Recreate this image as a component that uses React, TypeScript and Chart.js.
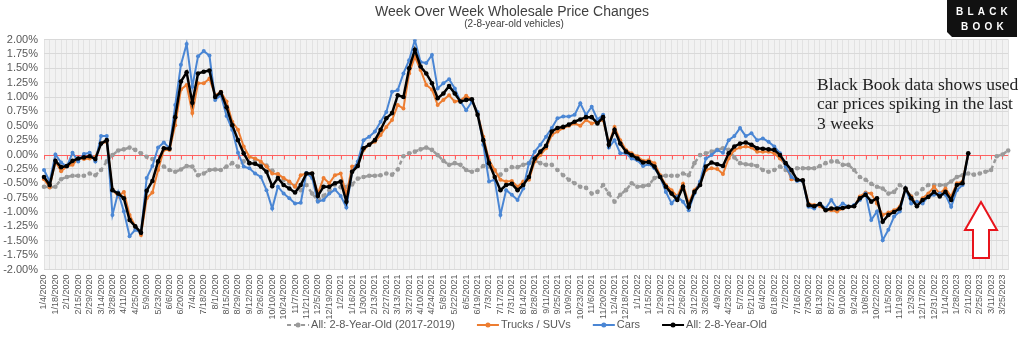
import React, { useEffect, useRef } from "react";
import { Chart, registerables } from "chart.js";

Chart.register(...registerables);

// ---------- data ----------
const TITLE = "Week Over Week Wholesale Price Changes";
const SUBTITLE = "(2-8-year-old vehicles)";
const NOTE_LINES = ["Black Book data shows used", "car prices spiking in the last", "3 weeks"];
const SERIES_NAMES = ["All: 2-8-Year-Old (2017-2019)", "Trucks / SUVs", "Cars", "All: 2-8-Year-Old"];

const FIRST_WEEK = [2020, 1, 4];
const WEEK_COUNT = 170;

function buildWeekLabels(): string[] {
  const out: string[] = [];
  const d = new Date(FIRST_WEEK[0], FIRST_WEEK[1] - 1, FIRST_WEEK[2]);
  for (let i = 0; i < WEEK_COUNT; i++) {
    out.push(`${d.getMonth() + 1}/${d.getDate()}/${d.getFullYear()}`);
    d.setDate(d.getDate() + 7);
  }
  return out;
}
const WEEK_LABELS = buildWeekLabels();

const BASELINE_2017_2019 = [
  -0.56, -0.57, -0.56, -0.43, -0.39, -0.37, -0.37, -0.37, -0.33, -0.36,
  -0.27, -0.12, -0.01, 0.07, 0.09, 0.12, 0.08, 0.02, -0.04, -0.08,
  -0.14, -0.21, -0.27, -0.3, -0.26, -0.2, -0.21, -0.36, -0.33, -0.27,
  -0.26, -0.27, -0.21, -0.15, -0.21, -0.12, -0.15, -0.1, -0.16, -0.19,
  -0.28, -0.35, -0.44, -0.5, -0.55, -0.62, -0.53, -0.68, -0.8, -0.72,
  -0.62, -0.52, -0.57, -0.56, -0.52, -0.42, -0.39, -0.37, -0.37, -0.36,
  -0.33, -0.35, -0.26, -0.03, 0.02, 0.05, 0.09, 0.12, 0.08, -0.01,
  -0.11, -0.18, -0.15, -0.18, -0.27, -0.3, -0.27, -0.2, -0.21, -0.28,
  -0.35, -0.27, -0.22, -0.22, -0.18, -0.15, -0.1, -0.15, -0.18, -0.18,
  -0.27, -0.36, -0.44, -0.5, -0.56, -0.58, -0.68, -0.65, -0.53, -0.68,
  -0.82, -0.7, -0.62, -0.5, -0.56, -0.55, -0.53, -0.41, -0.37, -0.37,
  -0.37, -0.37, -0.33, -0.36, -0.15, -0.01, 0.02, 0.05, 0.08, 0.11,
  0.08, -0.05, -0.15, -0.17, -0.18, -0.2, -0.27, -0.3, -0.27, -0.21,
  -0.27, -0.33, -0.24, -0.24, -0.24, -0.24, -0.2, -0.15, -0.12, -0.12,
  -0.18, -0.18, -0.27, -0.39, -0.44, -0.51, -0.56, -0.59, -0.68, -0.65,
  -0.53, -0.6, -0.73, -0.68, -0.6, -0.53, -0.53, -0.53, -0.53, -0.47,
  -0.39, -0.36, -0.33, -0.35, -0.33, -0.3, -0.27, -0.03, 0.0, 0.07,
];

const TRUCKS_SUVS = [
  -0.43, -0.57, -0.12, -0.29, -0.21, -0.18, -0.07, -0.08, -0.07, -0.04,
  0.19, 0.22, -0.61, -0.73, -0.65, -1.05, -1.25, -1.4, -0.76, -0.66,
  -0.27, 0.08, 0.08, 0.51, 1.13, 1.21, 0.72, 1.24, 1.24, 1.32,
  1.03, 1.09, 0.92, 0.57, 0.43, 0.14, -0.04, -0.07, -0.12, -0.21,
  -0.33, -0.34, -0.41, -0.47, -0.56, -0.36, -0.33, -0.33, -0.68, -0.41,
  -0.5, -0.36, -0.33, -0.7, -0.21, -0.18, 0.08, 0.17, 0.22, 0.34,
  0.48, 0.6, 0.86, 0.8, 1.41, 1.7, 1.47, 1.21, 1.13, 0.86,
  0.95, 1.03, 0.92, 0.94, 1.02, 0.95, 0.72, 0.31, -0.1, -0.27,
  -0.44, -0.47, -0.46, -0.56, -0.47, -0.44, -0.12, -0.01, 0.11, 0.34,
  0.4, 0.46, 0.5, 0.54, 0.5, 0.6, 0.54, 0.57, 0.6, 0.19,
  0.48, 0.25, 0.08, 0.02, -0.03, -0.11, -0.1, -0.15, -0.36, -0.53,
  -0.62, -0.73, -0.51, -0.85, -0.62, -0.5, -0.27, -0.24, -0.25, -0.34,
  -0.07, 0.08, 0.12, 0.14, 0.12, 0.05, 0.05, 0.05, 0.02, -0.07,
  -0.18, -0.43, -0.44, -0.45, -0.85, -0.88, -0.9, -0.97, -0.97, -0.99,
  -0.94, -0.91, -0.9, -0.73, -0.66, -0.68, -0.85, -1.05, -1.01, -0.97,
  -0.91, -0.59, -0.73, -0.88, -0.76, -0.68, -0.56, -0.68, -0.59, -0.73,
  -0.5, -0.47, 0.01,
];

const CARS = [
  -0.27, -0.47, 0.0, -0.14, -0.21, 0.03, -0.12, 0.01, 0.03, -0.12,
  0.32, 0.32, -1.05, -0.66, -0.99, -1.42, -1.31, -1.36, -0.41, -0.2,
  0.12, 0.21, 0.11, 0.86, 1.56, 1.92, 1.18, 1.71, 1.8, 1.72,
  0.95, 1.03, 0.67, 0.43, 0.03, -0.21, -0.24, -0.33, -0.39, -0.62,
  -0.94, -0.56, -0.68, -0.76, -0.85, -0.84, -0.32, -0.41, -0.82, -0.79,
  -0.68, -0.61, -0.72, -0.92, -0.3, -0.12, 0.25, 0.31, 0.4, 0.57,
  0.74, 1.09, 1.12, 1.41, 1.64, 1.99, 1.61, 1.59, 1.73, 1.15,
  1.24, 1.31, 1.15, 0.92, 0.77, 0.92, 0.74, 0.17, -0.47, -0.44,
  -1.05, -0.62, -0.7, -0.79, -0.59, -0.15, 0.05, 0.17, 0.31, 0.46,
  0.63, 0.66, 0.66, 0.69, 0.89, 0.69, 0.83, 0.61, 0.69, 0.12,
  0.25, 0.02, 0.02, -0.07, -0.1, -0.2, -0.17, -0.24, -0.39, -0.65,
  -0.85, -0.73, -0.82, -0.97, -0.68, -0.47, -0.07, -0.01, 0.08, 0.03,
  0.25, 0.32, 0.46, 0.32, 0.37, 0.25, 0.28, 0.22, 0.14, 0.02,
  -0.21, -0.39, -0.46, -0.46, -0.91, -0.94, -0.85, -0.94, -0.79, -0.94,
  -0.85, -0.91, -0.88, -0.79, -0.68, -1.14, -0.99, -1.49, -1.31, -1.08,
  -0.99, -0.59, -0.85, -0.82, -0.85, -0.73, -0.7, -0.68, -0.7, -0.91,
  -0.62, -0.53, 0.01,
];

const ALL_2_8 = [
  -0.39, -0.53, -0.11, -0.22, -0.2, -0.11, -0.07, -0.05, -0.03, -0.08,
  0.19, 0.25, -0.62, -0.68, -0.76, -1.14, -1.25, -1.36, -0.63, -0.46,
  -0.12, 0.11, 0.1, 0.65, 1.27, 1.43, 0.9, 1.41, 1.44, 1.46,
  1.0, 1.08, 0.82, 0.51, 0.25, 0.02, -0.15, -0.16, -0.21, -0.3,
  -0.55, -0.41, -0.53, -0.59, -0.66, -0.53, -0.33, -0.33, -0.72, -0.56,
  -0.56, -0.5, -0.47, -0.82, -0.3, -0.2, 0.11, 0.17, 0.25, 0.43,
  0.63, 0.72, 1.03, 1.0, 1.5, 1.82, 1.53, 1.41, 1.24, 0.98,
  1.06, 1.19, 1.06, 0.92, 0.95, 0.96, 0.69, 0.25, -0.15, -0.39,
  -0.62, -0.53, -0.51, -0.62, -0.53, -0.39, -0.07, 0.05, 0.15, 0.4,
  0.46, 0.48, 0.52, 0.57, 0.61, 0.65, 0.65, 0.54, 0.65, 0.17,
  0.43, 0.19, 0.05, -0.01, -0.07, -0.14, -0.13, -0.21, -0.39, -0.56,
  -0.68, -0.79, -0.56, -0.91, -0.65, -0.53, -0.21, -0.14, -0.17, -0.2,
  0.02, 0.14, 0.19, 0.21, 0.17, 0.11, 0.1, 0.09, 0.08, -0.01,
  -0.15, -0.27, -0.44, -0.45, -0.88, -0.9, -0.86, -0.97, -0.94, -0.94,
  -0.93, -0.91, -0.9, -0.76, -0.7, -0.82, -0.76, -1.17, -1.05, -1.0,
  -0.94, -0.59, -0.76, -0.9, -0.79, -0.74, -0.65, -0.73, -0.65, -0.79,
  -0.53, -0.5, 0.02,
];

// ---------- styles ----------
const GRAY = "#9a9a9a";
const ORANGE = "#ed7d31";
const BLUE = "#4a86d4";
const BLACK = "#000000";
const SANS = '"Liberation Sans", Arial, sans-serif';

const overlayPlugin = {
  id: "overlay",
  beforeDraw(chart: any) {
    const { ctx, chartArea: a } = chart;
    ctx.save();
    ctx.fillStyle = "#ffffff";
    ctx.fillRect(0, 0, chart.width, chart.height);
    ctx.fillStyle = "#f2f2f2";
    ctx.fillRect(a.left, a.top, a.right - a.left, a.bottom - a.top);
    ctx.restore();
  },
  beforeDatasetsDraw(chart: any) {
    const { ctx, chartArea: a, scales } = chart;
    const y0 = Math.round(scales.y.getPixelForValue(0)) + 0.5;
    ctx.save();
    ctx.strokeStyle = "#ff6060";
    ctx.lineWidth = 1;
    ctx.beginPath();
    ctx.moveTo(a.left, y0);
    ctx.lineTo(a.right, y0);
    for (let i = 0; i < WEEK_LABELS.length; i += 2) {
      const x = Math.round(scales.x.getPixelForValue(i)) + 0.5;
      ctx.moveTo(x, y0);
      ctx.lineTo(x, y0 + 4);
    }
    ctx.stroke();
    ctx.restore();
  },
  afterDraw(chart: any) {
    const { ctx } = chart;
    ctx.save();
    // title
    ctx.fillStyle = "#404040";
    ctx.textAlign = "center";
    ctx.textBaseline = "middle";
    ctx.font = '14px "Liberation Sans Narrow", "Liberation Sans", Arial, sans-serif';
    ctx.fillText(TITLE, 512, 12);
    ctx.font = '10px "Liberation Sans Narrow", "Liberation Sans", Arial, sans-serif';
    ctx.fillText(SUBTITLE, 514, 24);

    // logo
    ctx.fillStyle = "#111111";
    ctx.beginPath();
    ctx.moveTo(947, 0);
    ctx.lineTo(1017, 0);
    ctx.lineTo(1017, 37);
    ctx.lineTo(952, 37);
    ctx.lineTo(947, 32);
    ctx.closePath();
    ctx.fill();
    ctx.fillStyle = "#ffffff";
    ctx.font = 'bold 10px "Liberation Sans", Arial, sans-serif';
    ctx.textAlign = "left";
    const spaced = (t: string, x: number, y: number, gap: number) => {
      let cx = x;
      for (const ch of t) {
        ctx.fillText(ch, cx, y);
        cx += ctx.measureText(ch).width + gap;
      }
    };
    spaced("BLACK", 956, 12, 4.2);
    spaced("BOOK", 961, 27, 4.2);

    // annotation
    ctx.fillStyle = "#222222";
    ctx.font = '17.5px "Liberation Serif", "Times New Roman", serif';
    ctx.textAlign = "left";
    ctx.textBaseline = "middle";
    NOTE_LINES.forEach((line, k) => ctx.fillText(line, 817, 85 + k * 19.5));

    // arrow
    ctx.beginPath();
    ctx.moveTo(981, 202);
    ctx.lineTo(997, 230);
    ctx.lineTo(989, 230);
    ctx.lineTo(989, 258);
    ctx.lineTo(973, 258);
    ctx.lineTo(973, 230);
    ctx.lineTo(965, 230);
    ctx.closePath();
    ctx.fillStyle = "#ffffff";
    ctx.fill();
    ctx.strokeStyle = "#e8141c";
    ctx.lineWidth = 2;
    ctx.lineJoin = "miter";
    ctx.stroke();

    // legend
    ctx.font = `11px ${SANS}`;
    ctx.textBaseline = "middle";
    const items = chart.data.datasets.map((ds: any) => ({
      label: ds.label,
      color: ds.borderColor,
      dash: ds.borderDash || [],
    }));
    const sym = 22;
    const gapText = 2;
    const gapItem = 22;
    let total = 0;
    items.forEach((it: any, k: number) => {
      total += sym + gapText + ctx.measureText(it.label).width + (k < items.length - 1 ? gapItem : 0);
    });
    let x = 527 - total / 2;
    const ly = 325;
    items.forEach((it: any) => {
      ctx.strokeStyle = it.color;
      ctx.lineWidth = 2;
      ctx.setLineDash(it.dash);
      ctx.beginPath();
      ctx.moveTo(x, ly);
      ctx.lineTo(x + sym, ly);
      ctx.stroke();
      ctx.setLineDash([]);
      ctx.fillStyle = it.color;
      ctx.beginPath();
      ctx.arc(x + sym / 2, ly, 2.5, 0, Math.PI * 2);
      ctx.fill();
      ctx.fillStyle = "#595959";
      ctx.fillText(it.label, x + sym + gapText, ly);
      x += sym + gapText + ctx.measureText(it.label).width + gapItem;
    });
    ctx.restore();
  },
};

export default function App() {
  const ref = useRef<HTMLCanvasElement | null>(null);
  useEffect(() => {
    if (!ref.current) return;
    const chart = new Chart(ref.current, {
      type: "line",
      data: {
        labels: WEEK_LABELS,
        datasets: [
          {
            label: SERIES_NAMES[0],
            data: BASELINE_2017_2019,
            borderColor: GRAY,
            backgroundColor: GRAY,
            borderDash: [4, 3],
            borderWidth: 2.5,
            pointRadius: 2.3,
            pointBorderWidth: 0,
            pointBackgroundColor: GRAY,
            order: 4,
          },
          {
            label: SERIES_NAMES[1],
            data: TRUCKS_SUVS,
            borderColor: ORANGE,
            backgroundColor: ORANGE,
            borderWidth: 2,
            pointRadius: 2,
            pointBorderWidth: 0,
            pointBackgroundColor: ORANGE,
            order: 3,
          },
          {
            label: SERIES_NAMES[2],
            data: CARS,
            borderColor: BLUE,
            backgroundColor: BLUE,
            borderWidth: 2,
            pointRadius: 2,
            pointBorderWidth: 0,
            pointBackgroundColor: BLUE,
            order: 2,
          },
          {
            label: SERIES_NAMES[3],
            data: ALL_2_8,
            borderColor: BLACK,
            backgroundColor: BLACK,
            borderWidth: 2.5,
            pointRadius: 2.3,
            pointBorderWidth: 0,
            pointBackgroundColor: BLACK,
            order: 1,
          },
        ],
      },
      options: {
        responsive: false,
        animation: false,
        events: [],
        layout: { padding: { top: 39.5, right: 1.5, left: 0, bottom: 0 } },
        plugins: {
          legend: { display: false },
          title: { display: false },
          tooltip: { enabled: false },
        },
        elements: { line: { tension: 0 } },
        scales: {
          x: {
            type: "category",
            offset: false,
            grid: { color: "#e2e2e2", drawTicks: false, lineWidth: 1 },
            border: { display: false },
            ticks: {
              autoSkip: false,
              maxRotation: 90,
              minRotation: 90,
              padding: 5,
              color: "#595959",
              font: { size: 9, family: SANS },
              callback: (_v: any, i: number) => (i % 2 === 0 ? WEEK_LABELS[i] : ""),
            },
            afterFit: (s: any) => {
              s.height = 71.5;
            },
          },
          y: {
            min: -2,
            max: 2,
            grid: {
              color: (c: any) => (c.tick && c.tick.value === 0 ? "rgba(0,0,0,0)" : "#d9d9d9"),
              drawTicks: false,
            },
            border: { display: false },
            ticks: {
              stepSize: 0.25,
              autoSkip: false,
              padding: 6,
              color: "#595959",
              font: { size: 11, family: SANS },
              callback: (v: any) => Number(v).toFixed(2) + "%",
            },
            afterFit: (s: any) => {
              s.width = 44;
            },
          },
        },
      },
      plugins: [overlayPlugin],
    });
    return () => chart.destroy();
  }, []);

  return (
    <div style={{ position: "fixed", left: 0, top: 0, width: 1024, height: 341, background: "#fff" }}>
      <canvas ref={ref} width={1024} height={341} style={{ width: 1024, height: 341, display: "block" }} />
    </div>
  );
}
